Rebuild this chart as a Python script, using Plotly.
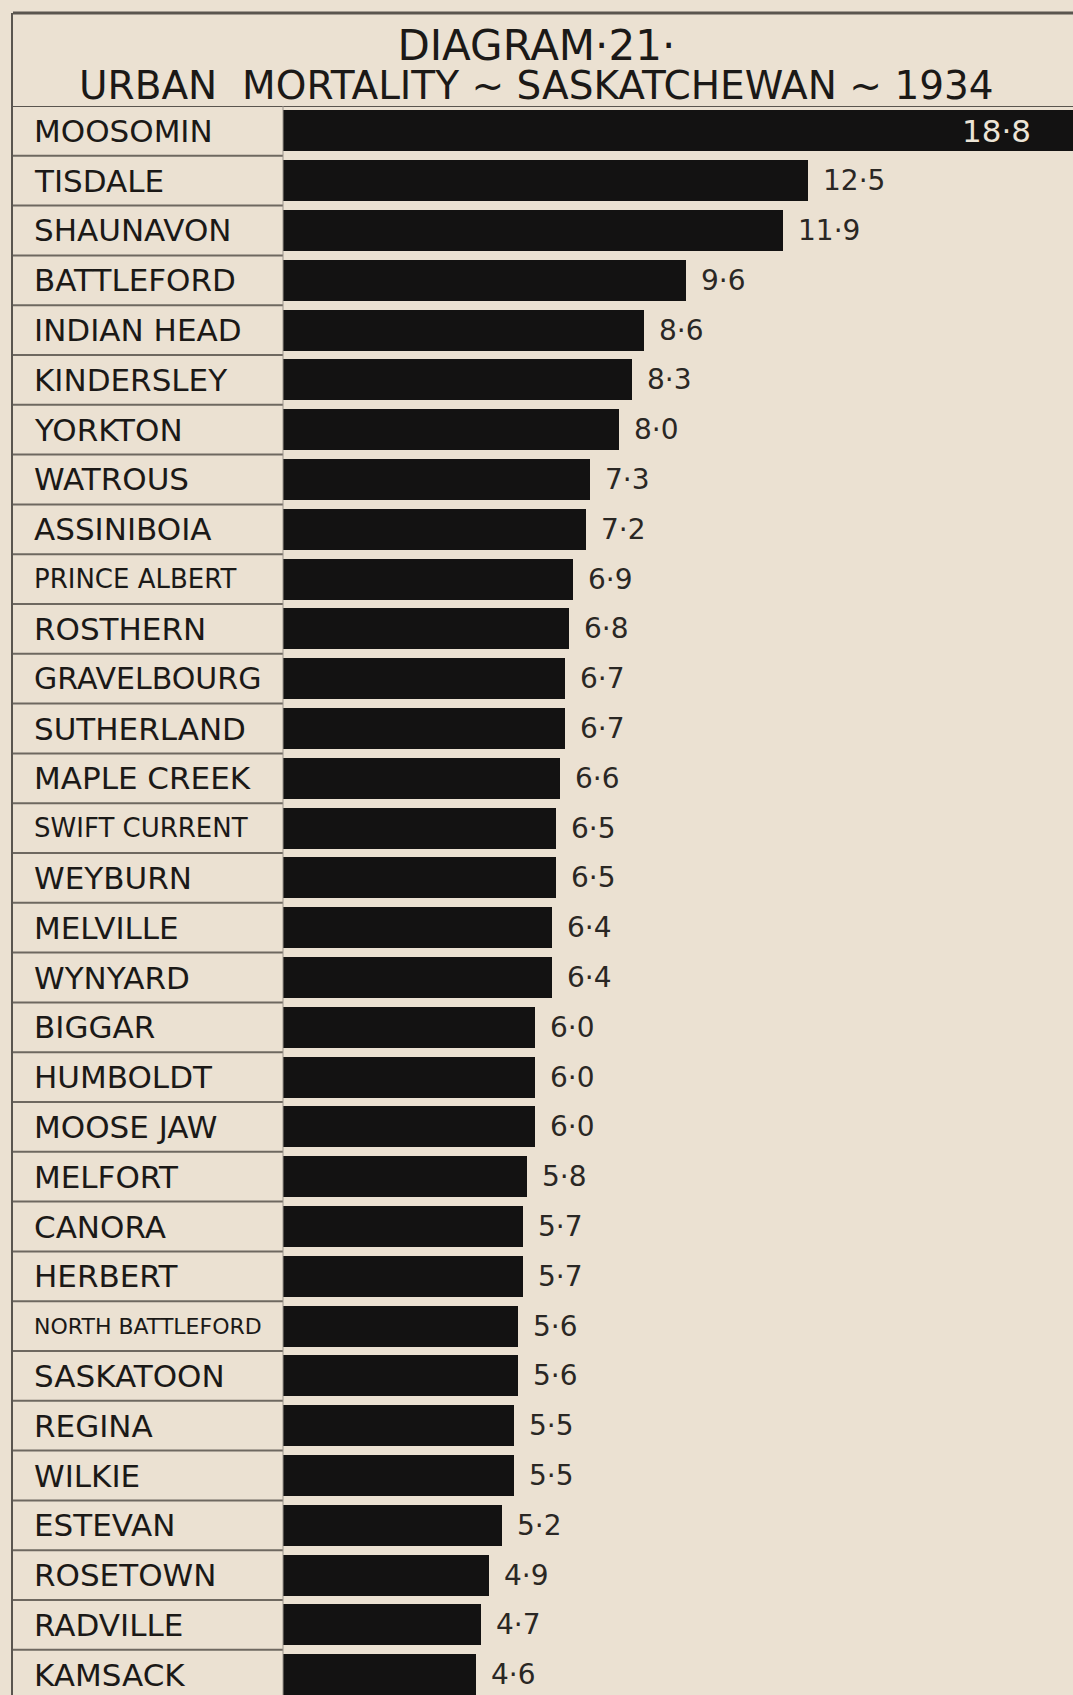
import plotly.graph_objects as go

towns = ["MOOSOMIN", "TISDALE", "SHAUNAVON", "BATTLEFORD", "INDIAN HEAD", "KINDERSLEY",
         "YORKTON", "WATROUS", "ASSINIBOIA", "PRINCE ALBERT", "ROSTHERN", "GRAVELBOURG",
         "SUTHERLAND", "MAPLE CREEK", "SWIFT CURRENT", "WEYBURN", "MELVILLE", "WYNYARD",
         "BIGGAR", "HUMBOLDT", "MOOSE JAW", "MELFORT", "CANORA", "HERBERT",
         "NORTH BATTLEFORD", "SASKATOON", "REGINA", "WILKIE", "ESTEVAN", "ROSETOWN",
         "RADVILLE", "KAMSACK"]
rates = [18.8, 12.5, 11.9, 9.6, 8.6, 8.3, 8.0, 7.3, 7.2, 6.9, 6.8, 6.7, 6.7, 6.6, 6.5, 6.5,
         6.4, 6.4, 6.0, 6.0, 6.0, 5.8, 5.7, 5.7, 5.6, 5.6, 5.5, 5.5, 5.2, 4.9, 4.7, 4.6]
title_text = "DIAGRAM·21·"
subtitle_text = "URBAN  MORTALITY ~ SASKATCHEWAN ~ 1934"

W, H = 1073, 1695
BG = "#EBE1D2"
INK = "#1b1917"
LINE = "#6e6860"
FONT = "DejaVu Sans"

def px(x):
    return x / W

def py(y):
    return 1 - y / H

# layout geometry (pixels)
col_left, col_right = 13, 283
plot_top = 106
pitch = 49.8
n = len(towns)
bottom_val = (H - plot_top) / pitch - 0.5

label_size = {"PRINCE ALBERT": 26, "SWIFT CURRENT": 26, "NORTH BATTLEFORD": 22,
              "GRAVELBOURG": 30}

fig = go.Figure()
fig.add_trace(go.Bar(
    x=rates, y=list(range(n)), orientation="h",
    marker=dict(color="#131212", line=dict(width=0)),
    width=0.82, hoverinfo="skip",
))

annotations = []
for i, (t, v) in enumerate(zip(towns, rates)):
    annotations.append(dict(
        x=px(32), xref="paper", y=i, yref="y", text=t, showarrow=False,
        xanchor="left", yanchor="middle",
        font=dict(family=FONT, size=label_size.get(t, 31), color=INK),
    ))
    vt = f"{v:.1f}".replace(".", "·")
    if i == 0:
        annotations.append(dict(
            x=v, xref="x", y=i, yref="y", text=vt, showarrow=False,
            xanchor="right", yanchor="middle", xshift=-40,
            font=dict(family=FONT, size=31, color="#ece4d6"),
        ))
    else:
        annotations.append(dict(
            x=v, xref="x", y=i, yref="y", text=vt, showarrow=False,
            xanchor="left", yanchor="middle", xshift=13,
            font=dict(family=FONT, size=28, color="#2a2724"),
        ))

heading = ("<span style='font-size:42px'>" + title_text + "</span><br>"
           "<span style='font-size:39px'>" + subtitle_text + "</span>")
annotations.append(dict(x=0.5, xref="paper", y=py(64), yref="paper", text=heading,
                        showarrow=False, xanchor="center", yanchor="middle", align="center",
                        font=dict(family=FONT, size=30, color=INK)))

shapes = []
# top frame line
shapes.append(dict(type="line", xref="paper", yref="paper", x0=px(13), x1=1,
                   y0=py(13), y1=py(13), line=dict(color="#5a554f", width=3)))
# left frame line
shapes.append(dict(type="line", xref="paper", yref="paper", x0=px(12), x1=px(12),
                   y0=py(13), y1=0, line=dict(color="#5a554f", width=2)))
# line under subtitle
shapes.append(dict(type="line", xref="paper", yref="y", x0=px(13), x1=1,
                   y0=-0.5, y1=-0.5, line=dict(color="#5a554f", width=2)))
# row separators in label column
for i in range(n - 1):
    shapes.append(dict(type="line", xref="paper", yref="y", x0=px(col_left), x1=px(col_right),
                       y0=i + 0.5, y1=i + 0.5, line=dict(color=LINE, width=2)))
# label column right edge
shapes.append(dict(type="line", xref="paper", yref="y", x0=px(col_right), x1=px(col_right),
                   y0=-0.5, y1=bottom_val, line=dict(color="#9a938a", width=1)))

fig.update_layout(
    width=W, height=H,
    margin=dict(l=0, r=0, t=0, b=0),
    paper_bgcolor=BG, plot_bgcolor=BG,
    showlegend=False,
    bargap=0,
    xaxis=dict(domain=[px(col_right), 1], range=[0, 18.8], visible=False, fixedrange=True),
    yaxis=dict(domain=[0, py(plot_top)], range=[bottom_val, -0.5], visible=False,
               fixedrange=True),
    annotations=annotations,
    shapes=shapes,
)

fig.write_html(
    "out.html",
    config={"displayModeBar": False},
    post_script="document.body.style.margin='0';document.body.style.overflow='hidden';"
                "document.body.style.background='" + BG + "';",
)
